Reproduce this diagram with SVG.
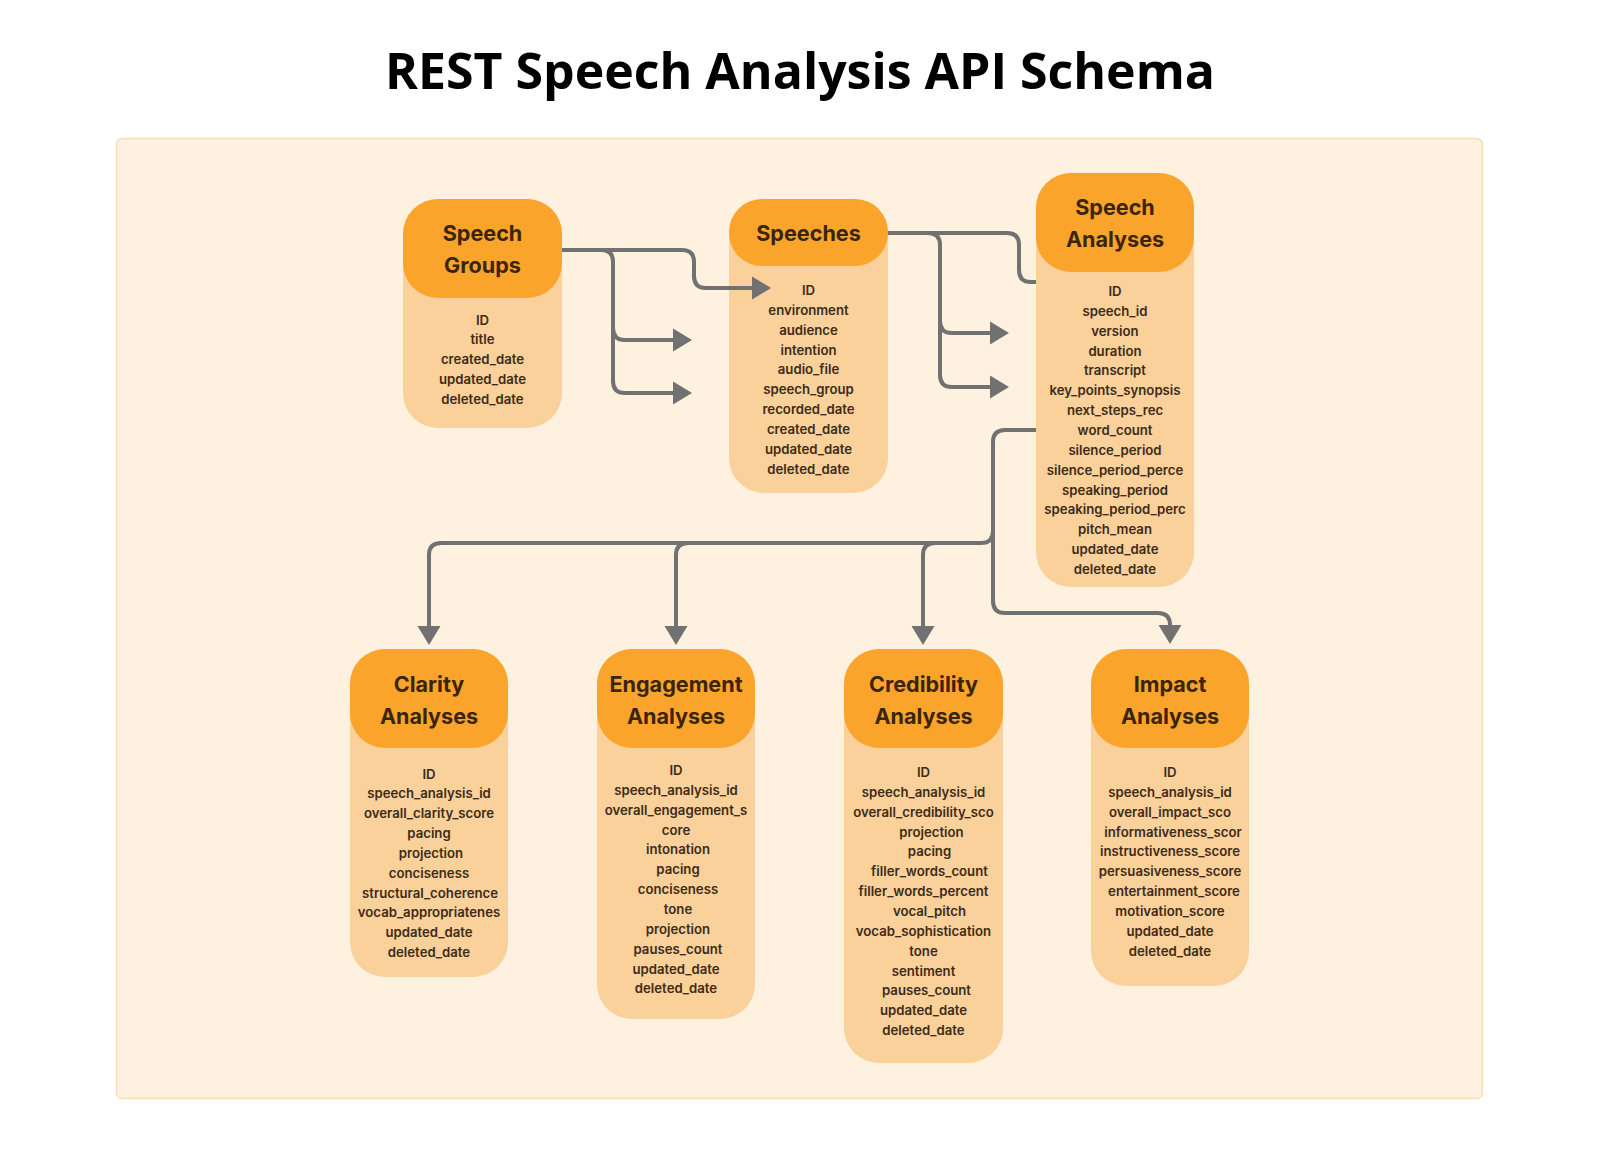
<svg xmlns="http://www.w3.org/2000/svg" width="1600" height="1153" viewBox="0 0 1600 1153">
<style>
.title{font-family:"Open Sans","Noto Sans",sans-serif;font-weight:700;font-size:50px;fill:#000;text-anchor:middle}
.body{fill:#FAD09B}
.head{fill:#FAA42B}
.ht{font-family:Inter,"Noto Sans",sans-serif;font-weight:700;font-size:21.6px;fill:#3A2508;text-anchor:middle}
.f{font-family:Inter,"Noto Sans",sans-serif;font-weight:600;font-size:13.2px;fill:#3D2C17;text-anchor:middle}
.c{fill:none;stroke:#717171;stroke-width:4;stroke-linejoin:round}
</style>
<defs>
<marker id="arr" markerUnits="userSpaceOnUse" markerWidth="20" markerHeight="24" viewBox="0 -12 20 24" refX="0" refY="0" orient="auto">
<path d="M0,-11.5 L19,0 L0,11.5 Z" fill="#717171"/>
</marker>
</defs>
<rect width="1600" height="1153" fill="#FFFFFF"/>
<text class="title" x="800" y="89">REST Speech Analysis API Schema</text>
<rect x="116.5" y="138.5" width="1366" height="960" rx="6" fill="#FEF1DF" stroke="#F8DDB2" stroke-width="1.5"/>

<g id="speech-groups">
<rect class="body" x="403" y="199" width="159" height="229" rx="35"/>
<rect class="head" x="403" y="199" width="159" height="99" rx="35"/>
<text class="ht" x="482.5" y="241">Speech</text>
<text class="ht" x="482.5" y="273">Groups</text>
<text class="f" x="482.5" y="324.5">ID</text>
<text class="f" x="482.5" y="344.3">title</text>
<text class="f" x="482.5" y="364.2">created_date</text>
<text class="f" x="482.5" y="384">updated_date</text>
<text class="f" x="482.5" y="403.9">deleted_date</text>
</g>

<g id="speeches">
<rect class="body" x="729" y="199" width="159" height="294" rx="35"/>
<rect class="head" x="729" y="199" width="159" height="67" rx="33"/>
<text class="ht" x="808.5" y="241">Speeches</text>
<text class="f" x="808.5" y="295">ID</text>
<text class="f" x="808.5" y="314.8">environment</text>
<text class="f" x="808.5" y="334.7">audience</text>
<text class="f" x="808.5" y="354.5">intention</text>
<text class="f" x="808.5" y="374.4">audio_file</text>
<text class="f" x="808.5" y="394.2">speech_group</text>
<text class="f" x="808.5" y="414.1">recorded_date</text>
<text class="f" x="808.5" y="433.9">created_date</text>
<text class="f" x="808.5" y="453.8">updated_date</text>
<text class="f" x="808.5" y="473.6">deleted_date</text>
</g>

<g id="speech-analyses">
<rect class="body" x="1036" y="173" width="158" height="414" rx="35"/>
<rect class="head" x="1036" y="173" width="158" height="99" rx="35"/>
<text class="ht" x="1115" y="215">Speech</text>
<text class="ht" x="1115" y="247">Analyses</text>
<text class="f" x="1115" y="296">ID</text>
<text class="f" x="1115" y="315.8">speech_id</text>
<text class="f" x="1115" y="335.7">version</text>
<text class="f" x="1115" y="355.5">duration</text>
<text class="f" x="1115" y="375.4">transcript</text>
<text class="f" x="1115" y="395.2">key_points_synopsis</text>
<text class="f" x="1115" y="415.1">next_steps_rec</text>
<text class="f" x="1115" y="434.9">word_count</text>
<text class="f" x="1115" y="454.8">silence_period</text>
<text class="f" x="1115" y="474.6">silence_period_perce</text>
<text class="f" x="1115" y="494.5">speaking_period</text>
<text class="f" x="1115" y="514.3">speaking_period_perc</text>
<text class="f" x="1115" y="534.2">pitch_mean</text>
<text class="f" x="1115" y="554">updated_date</text>
<text class="f" x="1115" y="573.9">deleted_date</text>
</g>

<g id="clarity-analyses">
<rect class="body" x="350" y="649" width="158" height="328" rx="35"/>
<rect class="head" x="350" y="649" width="158" height="99" rx="35"/>
<text class="ht" x="429" y="692">Clarity</text>
<text class="ht" x="429" y="724">Analyses</text>
<text class="f" x="429" y="778.5">ID</text>
<text class="f" x="429" y="798.3">speech_analysis_id</text>
<text class="f" x="429" y="818.2">overall_clarity_score</text>
<text class="f" x="429" y="838">pacing</text>
<text class="f" x="431" y="857.9">projection</text>
<text class="f" x="429" y="877.7">conciseness</text>
<text class="f" x="430" y="897.6">structural_coherence</text>
<text class="f" x="429" y="917.4">vocab_appropriatenes</text>
<text class="f" x="429" y="937.3">updated_date</text>
<text class="f" x="429" y="957.1">deleted_date</text>
</g>

<g id="engagement-analyses">
<rect class="body" x="597" y="649" width="158" height="370" rx="35"/>
<rect class="head" x="597" y="649" width="158" height="99" rx="35"/>
<text class="ht" x="676" y="692">Engagement</text>
<text class="ht" x="676" y="724">Analyses</text>
<text class="f" x="676" y="775">ID</text>
<text class="f" x="676" y="794.8">speech_analysis_id</text>
<text class="f" x="676" y="814.7">overall_engagement_s</text>
<text class="f" x="676" y="834.5">core</text>
<text class="f" x="678" y="854.4">intonation</text>
<text class="f" x="678" y="874.2">pacing</text>
<text class="f" x="678" y="894.1">conciseness</text>
<text class="f" x="678" y="913.9">tone</text>
<text class="f" x="678" y="933.8">projection</text>
<text class="f" x="678" y="953.6">pauses_count</text>
<text class="f" x="676" y="973.5">updated_date</text>
<text class="f" x="676" y="993.3">deleted_date</text>
</g>

<g id="credibility-analyses">
<rect class="body" x="844" y="649" width="159" height="414" rx="35"/>
<rect class="head" x="844" y="649" width="159" height="99" rx="35"/>
<text class="ht" x="923.5" y="692">Credibility</text>
<text class="ht" x="923.5" y="724">Analyses</text>
<text class="f" x="923.5" y="777">ID</text>
<text class="f" x="923.5" y="796.8">speech_analysis_id</text>
<text class="f" x="923.5" y="816.7">overall_credibility_sco</text>
<text class="f" x="931.5" y="836.5">projection</text>
<text class="f" x="929.5" y="856.4">pacing</text>
<text class="f" x="929.5" y="876.2">filler_words_count</text>
<text class="f" x="923.5" y="896.1">filler_words_percent</text>
<text class="f" x="929.5" y="915.9">vocal_pitch</text>
<text class="f" x="923.5" y="935.8">vocab_sophistication</text>
<text class="f" x="923.5" y="955.6">tone</text>
<text class="f" x="923.5" y="975.5">sentiment</text>
<text class="f" x="926.5" y="995.3">pauses_count</text>
<text class="f" x="923.5" y="1015.2">updated_date</text>
<text class="f" x="923.5" y="1035">deleted_date</text>
</g>

<g id="impact-analyses">
<rect class="body" x="1091" y="649" width="158" height="337" rx="35"/>
<rect class="head" x="1091" y="649" width="158" height="99" rx="35"/>
<text class="ht" x="1170" y="692">Impact</text>
<text class="ht" x="1170" y="724">Analyses</text>
<text class="f" x="1170" y="777">ID</text>
<text class="f" x="1170" y="796.8">speech_analysis_id</text>
<text class="f" x="1170" y="816.7">overall_impact_sco</text>
<text class="f" x="1173" y="836.5">informativeness_scor</text>
<text class="f" x="1170" y="856.4">instructiveness_score</text>
<text class="f" x="1170" y="876.2">persuasiveness_score</text>
<text class="f" x="1174" y="896.1">entertainment_score</text>
<text class="f" x="1170" y="915.9">motivation_score</text>
<text class="f" x="1170" y="935.8">updated_date</text>
<text class="f" x="1170" y="955.6">deleted_date</text>
</g>

<g id="connectors">
<path class="c" d="M562,250 H682 Q694,250 694,262 V276 Q694,288 706,288 H752" marker-end="url(#arr)"/>
<path class="c" d="M601,250 Q613,250 613,262 V328 Q613,340 625,340 H673" marker-end="url(#arr)"/>
<path class="c" d="M613,330 V381 Q613,393 625,393 H673" marker-end="url(#arr)"/>
<path class="c" d="M888,233 H1007 Q1019,233 1019,245 V270 Q1019,282 1031,282 H1036"/>
<path class="c" d="M928,233 Q940,233 940,245 V321 Q940,333 952,333 H990" marker-end="url(#arr)"/>
<path class="c" d="M940,320 V375 Q940,387 952,387 H990" marker-end="url(#arr)"/>
<path class="c" d="M1036,430 H1005 Q993,430 993,442 V531 Q993,543 981,543 H441 Q429,543 429,555 V626" marker-end="url(#arr)"/>
<path class="c" d="M688,543 Q676,543 676,555 V626" marker-end="url(#arr)"/>
<path class="c" d="M935,543 Q923,543 923,555 V626" marker-end="url(#arr)"/>
<path class="c" d="M993,531 V601 Q993,613 1005,613 H1158 Q1170,613 1170,625" marker-end="url(#arr)"/>
</g>
</svg>
